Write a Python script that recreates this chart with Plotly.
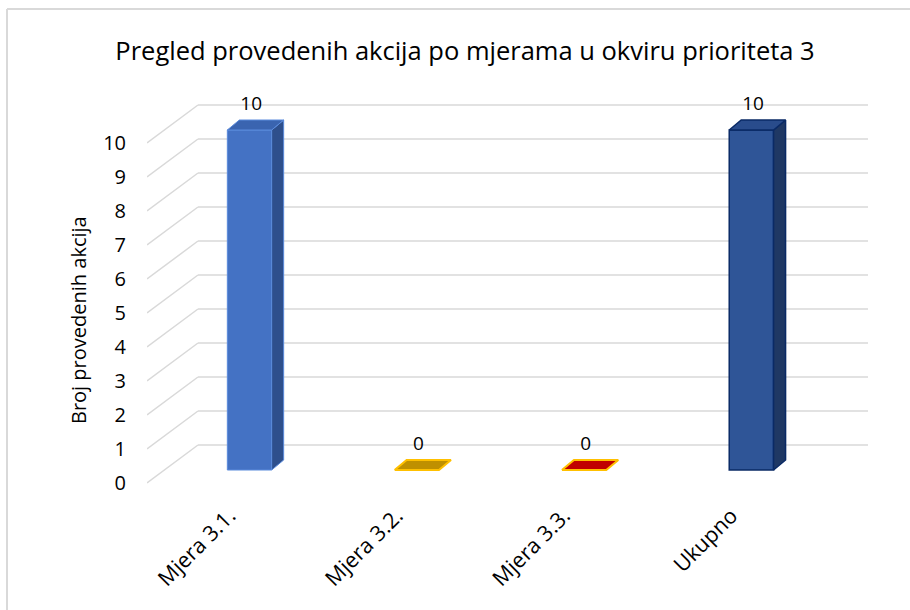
import plotly.graph_objects as go

# ---- data ----
categories = ["Mjera 3.1.", "Mjera 3.2.", "Mjera 3.3.", "Ukupno"]
values = [10, 0, 0, 10]
y_ticks = list(range(0, 11))
title_text = "Pregled provedenih akcija po mjerama u okviru prioriteta 3"
y_title = "Broj provedenih akcija"

# ---- styling ----
front_colors = ["#4472C4", "#BF9000", "#C00000", "#2F5597"]
top_colors = ["#3A64B0", "#BF9000", "#C00000", "#294C8C"]
side_colors = ["#2E4F8C", "#9A7400", "#9A0000", "#1F3864"]
edge_colors = ["#5B8BDC", "#FFC000", "#FFC000", "#0A2A66"]
edge_widths = [1, 2, 2, 1.5]

FONT = "Open Sans"
W, H = 910, 610
ML, MR, MT, MB = 147, 42, 88, 120
PX_X = 167.3   # pixels per category unit
PX_Y = 34.0    # pixels per value unit
plot_w = W - ML - MR
plot_h = H - MT - MB
x0 = -(249.5 - ML) / PX_X
x_range = [x0, x0 + plot_w / PX_X]
y0 = -((H - MB) - 470) / PX_Y
y_range = [y0, y0 + plot_h / PX_Y]

bar_w = 0.265
ddx = 12 / PX_X
ddy = 10 / PX_Y
front_off = -13 / PX_Y      # front-left end of gridlines
back_off = 25 / PX_Y        # back wall
x_back = -(249.5 - 198) / PX_X

fig = go.Figure()

# front faces
fig.add_trace(go.Bar(
    x=list(range(len(categories))), y=values, width=bar_w,
    marker=dict(color=front_colors,
                line=dict(color=edge_colors,
                          width=[w if v > 0 else 0 for v, w in zip(values, edge_widths)])),
    hoverinfo="skip", showlegend=False,
))

# side and top faces
for i, v in enumerate(values):
    xl, xr = i - bar_w / 2, i + bar_w / 2
    if v > 0:
        fig.add_trace(go.Scatter(
            x=[xr, xr, xr + ddx, xr + ddx, xr], y=[0, v, v + ddy, ddy, 0],
            fill="toself", fillcolor=side_colors[i], mode="lines",
            line=dict(color=edge_colors[i], width=edge_widths[i]),
            hoverinfo="skip", showlegend=False))
    fig.add_trace(go.Scatter(
        x=[xl, xr, xr + ddx, xl + ddx, xl], y=[v, v, v + ddy, v + ddy, v],
        fill="toself", fillcolor=top_colors[i], mode="lines",
        line=dict(color=edge_colors[i], width=edge_widths[i]),
        hoverinfo="skip", showlegend=False))

# data labels
fig.add_trace(go.Scatter(
    x=[i + 0.01 for i in range(len(values))], y=[v + 0.72 for v in values],
    mode="text", text=[str(v) for v in values], textposition="middle center",
    textfont=dict(family=FONT, size=19, color="#000000"),
    hoverinfo="skip", showlegend=False))

# gridlines (3D wall)
shapes = []
for t in y_ticks:
    shapes.append(dict(type="line", xref="x", yref="y", layer="below",
                       x0=x_range[0], y0=t + front_off, x1=x_back, y1=t + back_off,
                       line=dict(color="#D9D9D9", width=1.5)))
    shapes.append(dict(type="line", xref="x", yref="y", layer="below",
                       x0=x_back, y0=t + back_off, x1=x_range[1], y1=t + back_off,
                       line=dict(color="#D9D9D9", width=1.5)))
# chart border (top / left)
bx = (7 - ML) / plot_w
by = ((H - MB) - 9) / plot_h
shapes.append(dict(type="line", xref="paper", yref="paper", x0=bx, y0=by, x1=2, y1=by,
                   line=dict(color="#D9D9D9", width=2)))
shapes.append(dict(type="line", xref="paper", yref="paper", x0=bx, y0=by, x1=bx, y1=-2,
                   line=dict(color="#D9D9D9", width=2)))

fig.update_layout(
    width=W, height=H,
    margin=dict(l=ML, r=MR, t=MT, b=MB, autoexpand=False),
    paper_bgcolor="white", plot_bgcolor="white",
    showlegend=False, hovermode=False,
    title=dict(text=title_text, x=465 / W, xanchor="center",
               y=1 - 51 / H, yanchor="middle",
               font=dict(family=FONT, size=25.5, color="#000000")),
    xaxis=dict(range=x_range, autorange=False, showgrid=False, zeroline=False, showline=False,
               tickmode="array", tickvals=[i - 0.12 for i in range(len(categories))],
               ticktext=categories, tickangle=-45, ticks="",
               ticklabelstandoff=8,
               tickfont=dict(family=FONT, size=21.5, color="#000000"), fixedrange=True),
    yaxis=dict(range=y_range, autorange=False, showgrid=False, zeroline=False, showline=False,
               tickmode="array", tickvals=[t + front_off for t in y_ticks],
               ticktext=[str(t) for t in y_ticks], ticks="",
               ticklabelstandoff=20,
               tickfont=dict(family=FONT, size=20, color="#000000"), fixedrange=True),
    shapes=shapes,
    annotations=[dict(text=y_title, xref="paper", yref="paper",
                      x=(78 - ML) / plot_w, y=((H - MB) - 320) / plot_h,
                      xanchor="center", yanchor="middle", textangle=-90, showarrow=False,
                      font=dict(family=FONT, size=20, color="#000000"))],
)

fig.write_html("out.html", config={"displayModeBar": False},
               post_script="document.body.style.margin='0';")
